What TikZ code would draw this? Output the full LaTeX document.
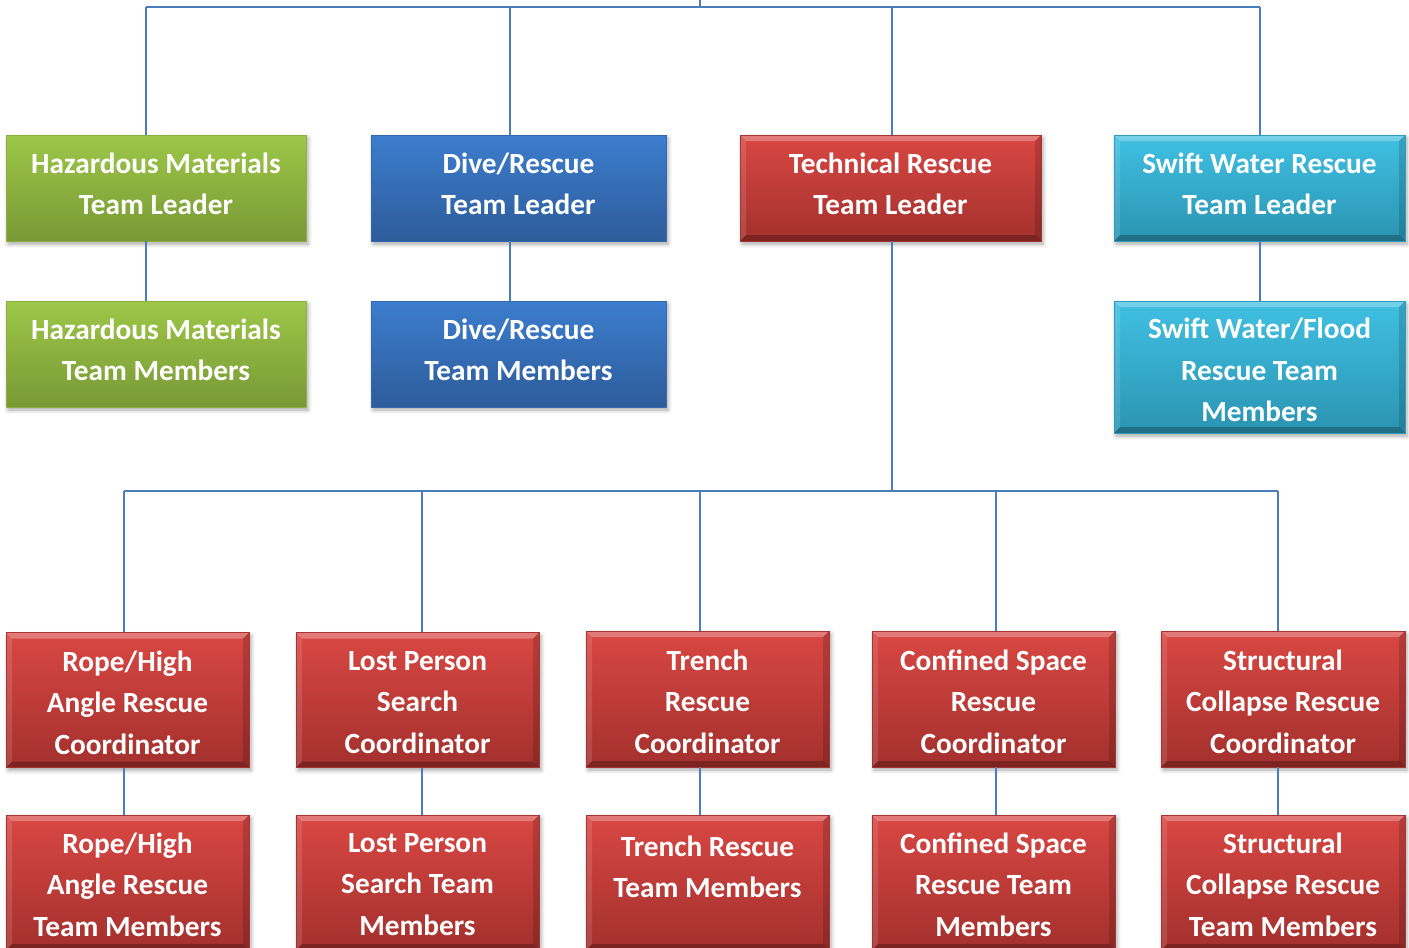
\documentclass[tikz,border=0pt]{standalone}
\usepackage{fontspec}
\setmainfont{Carlito}
\usetikzlibrary{shadows.blur,calc}
\definecolor{conncol}{HTML}{4A7EBB}
\definecolor{gtop}{HTML}{9EC748}
\definecolor{gbot}{HTML}{789835}
\definecolor{gdraw}{HTML}{8DB040}
\definecolor{btop}{HTML}{3C7DCE}
\definecolor{bbot}{HTML}{2D5C9A}
\definecolor{bdraw}{HTML}{3568B0}
\definecolor{rtop}{HTML}{D94743}
\definecolor{rbot}{HTML}{A3302D}
\definecolor{rdraw}{HTML}{A83431}
\definecolor{ctop}{HTML}{40C0E3}
\definecolor{cbot}{HTML}{2A94B1}
\definecolor{cdraw}{HTML}{2E9CBA}
\tikzset{
  lbl/.style={align=center, text=white, inner sep=0pt,
      font=\fontsize{29.3}{41.5}\selectfont\bfseries},
  box/.style={rectangle, inner sep=0pt,
    blur shadow={shadow xshift=2pt, shadow yshift=-3pt, shadow blur radius=4pt, shadow opacity=35}},
  greenbox/.style={box, top color=gtop, bottom color=gbot, draw=gdraw, line width=0.8pt},
  bluebox/.style={box, top color=btop, bottom color=bbot, draw=bdraw, line width=0.8pt},
  bevel/.style={path picture={
    \path (path picture bounding box.north west) coordinate (pnw)
          (path picture bounding box.south east) coordinate (pse);
    \fill[white,opacity=.28] (pnw) -- (pnw -| pse) -- ++(-6pt,-6pt) -- ($(pnw)+(6pt,-6pt)$) -- cycle;
    \fill[white,opacity=.12] (pnw) -- ($(pnw)+(6pt,-6pt)$) -- ($(pse -| pnw)+(6pt,6pt)$) -- (pse -| pnw) -- cycle;
    \fill[black,opacity=.25] (pse) -- (pse -| pnw) -- ++(6pt,6pt) -- ($(pse)+(-6pt,6pt)$) -- cycle;
    \fill[black,opacity=.15] (pnw -| pse) -- ++(-6pt,-6pt) -- ($(pse)+(-6pt,6pt)$) -- (pse) -- cycle;
  }},
  redbox/.style={box, top color=rtop, bottom color=rbot, draw=rdraw, line width=0.8pt, bevel},
  cyanbox/.style={box, top color=ctop, bottom color=cbot, draw=cdraw, line width=0.8pt, bevel},
  conn/.style={draw=conncol, line width=2.2pt},
}
\begin{document}
\begin{tikzpicture}[x=1pt,y=-1pt]
\useasboundingbox (0,0) rectangle (1409,948);
% row 1
\node[greenbox, minimum width=300, minimum height=106, label={[lbl,yshift=4pt]center:{Hazardous Materials\\Team Leader}}] (hazTL) at (156,188) {};
\node[bluebox, minimum width=295, minimum height=106, label={[lbl,yshift=4pt]center:{Dive/Rescue\\Team Leader}}] (diveTL) at (518.5,188) {};
\node[redbox, minimum width=301, minimum height=106, label={[lbl,yshift=4pt]center:{Technical Rescue\\Team Leader}}] (techTL) at (890.5,188) {};
\node[cyanbox, minimum width=291, minimum height=106, label={[lbl,yshift=4pt]center:{Swift Water Rescue\\Team Leader}}] (swiftTL) at (1259.5,188) {};
% row 2
\node[greenbox, minimum width=300, minimum height=106, label={[lbl,yshift=4pt]center:{Hazardous Materials\\Team Members}}] (hazTM) at (156,354) {};
\node[bluebox, minimum width=295, minimum height=106, label={[lbl,yshift=4pt]center:{Dive/Rescue\\Team Members}}] (diveTM) at (518.5,354) {};
\node[cyanbox, minimum width=291, minimum height=132, label={[lbl,yshift=-3pt]center:{Swift Water/Flood\\Rescue Team\\Members}}] (swiftTM) at (1259.5,367) {};
% row 3
\node[redbox, minimum width=243, minimum height=135, label={[lbl,yshift=-2.5pt]center:{Rope/High\\Angle Rescue\\Coordinator}}] (ropeC) at (127.5,700) {};
\node[redbox, minimum width=243, minimum height=135, label={[lbl,yshift=-2.5pt]center:{Lost Person\\Search\\Coordinator}}] (lostC) at (417.5,700) {};
\node[redbox, minimum width=243, minimum height=136, label={[lbl,yshift=-2.5pt]center:{Trench\\Rescue\\Coordinator}}] (trenchC) at (707.5,699) {};
\node[redbox, minimum width=243, minimum height=136, label={[lbl,yshift=-2.5pt]center:{Confined Space\\Rescue\\Coordinator}}] (confC) at (993.5,699) {};
\node[redbox, minimum width=244, minimum height=136, label={[lbl,yshift=-2.5pt]center:{Structural\\Collapse Rescue\\Coordinator}}] (structC) at (1283,699) {};
% row 4
\node[redbox, minimum width=243, minimum height=135, label={[lbl,yshift=-2pt]center:{Rope/High\\Angle Rescue\\Team Members}}] (ropeM) at (127.5,882.5) {};
\node[redbox, minimum width=243, minimum height=135, label={[lbl,yshift=-2pt]center:{Lost Person\\Search Team\\Members}}] (lostM) at (417.5,882.5) {};
\node[redbox, minimum width=243, minimum height=135, label={[lbl,yshift=15.5pt]center:{Trench Rescue\\Team Members}}] (trenchM) at (707.5,882.5) {};
\node[redbox, minimum width=243, minimum height=135, label={[lbl,yshift=-2pt]center:{Confined Space\\Rescue Team\\Members}}] (confM) at (993.5,882.5) {};
\node[redbox, minimum width=244, minimum height=135, label={[lbl,yshift=-2pt]center:{Structural\\Collapse Rescue\\Team Members}}] (structM) at (1283,882.5) {};
% top bus
\coordinate (root) at (700,-5);
\coordinate (busT) at (700,7);
\coordinate (bHaz) at (146,7);
\coordinate (bDive) at (510,7);
\coordinate (bTech) at (892,7);
\coordinate (bSwift) at (1260,7);
\draw[conn] (root) -- (busT);
\draw[conn] (bHaz) -- (bSwift);
\draw[conn] (bHaz) -- (bHaz |- hazTL.north);
\draw[conn] (bDive) -- (bDive |- diveTL.north);
\draw[conn] (bTech) -- (bTech |- techTL.north);
\draw[conn] (bSwift) -- (bSwift |- swiftTL.north);
\draw[conn] (bHaz |- hazTL.south) -- (bHaz |- hazTM.north);
\draw[conn] (bDive |- diveTL.south) -- (bDive |- diveTM.north);
\draw[conn] (bSwift |- swiftTL.south) -- (bSwift |- swiftTM.north);
% second bus
\coordinate (busM) at (892,491);
\coordinate (cRope) at (124,491);
\coordinate (cLost) at (422,491);
\coordinate (cTrench) at (700,491);
\coordinate (cConf) at (996,491);
\coordinate (cStruct) at (1278,491);
\draw[conn] (bTech |- techTL.south) -- (busM);
\draw[conn] (cRope) -- (cStruct);
\draw[conn] (cRope) -- (cRope |- ropeC.north);
\draw[conn] (cLost) -- (cLost |- lostC.north);
\draw[conn] (cTrench) -- (cTrench |- trenchC.north);
\draw[conn] (cConf) -- (cConf |- confC.north);
\draw[conn] (cStruct) -- (cStruct |- structC.north);
\draw[conn] (cRope |- ropeC.south) -- (cRope |- ropeM.north);
\draw[conn] (cLost |- lostC.south) -- (cLost |- lostM.north);
\draw[conn] (cTrench |- trenchC.south) -- (cTrench |- trenchM.north);
\draw[conn] (cConf |- confC.south) -- (cConf |- confM.north);
\draw[conn] (cStruct |- structC.south) -- (cStruct |- structM.north);
\end{tikzpicture}
\end{document}
